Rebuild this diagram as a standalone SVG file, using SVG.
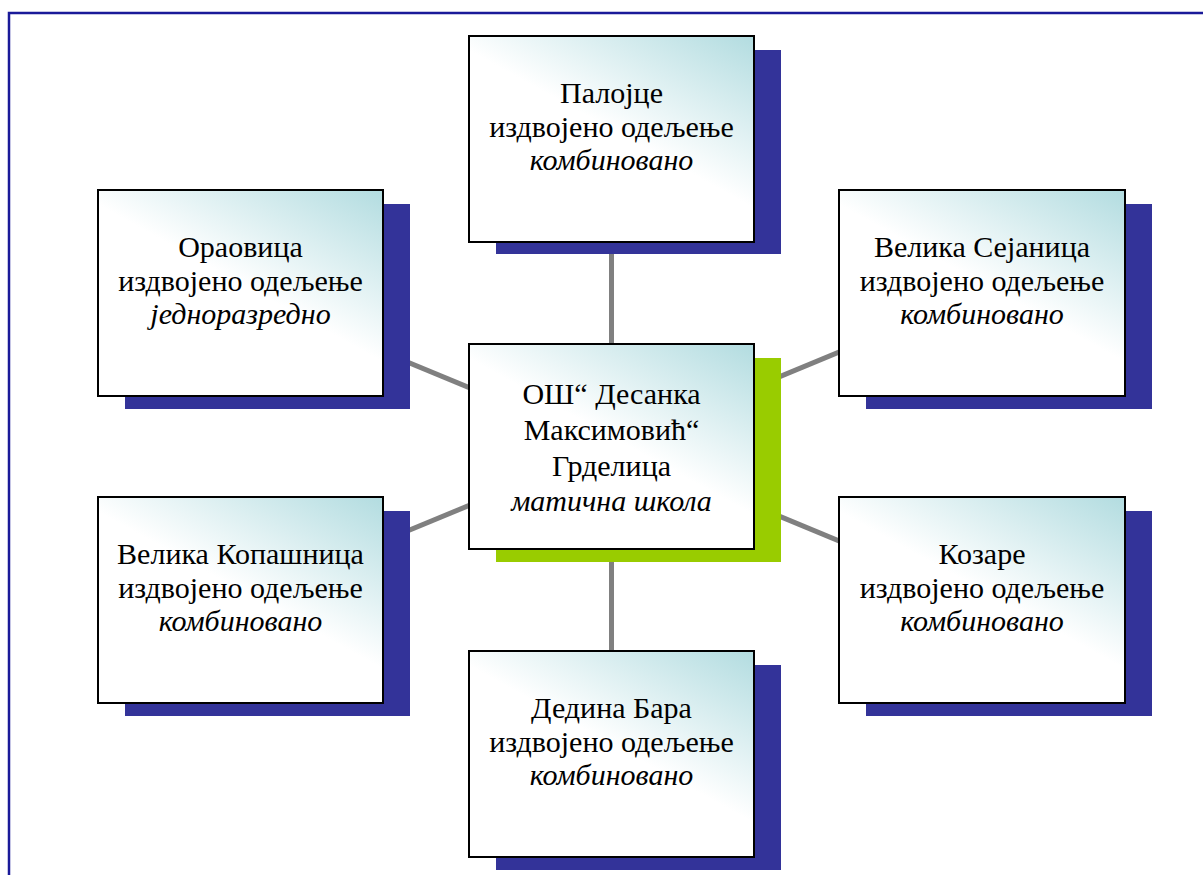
<svg xmlns="http://www.w3.org/2000/svg" width="1203" height="875" viewBox="0 0 1203 875">
<defs>
<linearGradient id="fill" x1="1" y1="0" x2="0.35" y2="0.85">
<stop offset="0" stop-color="#b2dce0"/>
<stop offset="0.62" stop-color="#ffffff"/>
<stop offset="1" stop-color="#ffffff"/>
</linearGradient>
<style>
.box{fill:url(#fill);stroke:#000;stroke-width:2}
.sh{fill:#333399}
.shg{fill:#99cc00}
.conn line{stroke:#808080;stroke-width:5}
text{font-family:"Liberation Serif","Times New Roman",serif;font-size:30px;fill:#000;text-anchor:middle}
.it{font-style:italic}
</style>
</defs>
<rect width="1203" height="875" fill="#fff"/>
<path d="M9 875 V13 H1203" fill="none" stroke="#1a1a99" stroke-width="2.5"/>
<g id="connectors" class="conn">
<line x1="611.5" y1="446.5" x2="611.5" y2="139"/>
<line x1="611.5" y1="446.5" x2="611.5" y2="754"/>
<line x1="611.5" y1="446.5" x2="240.5" y2="293"/>
<line x1="611.5" y1="446.5" x2="981.5" y2="293"/>
<line x1="611.5" y1="446.5" x2="240.5" y2="600"/>
<line x1="611.5" y1="446.5" x2="981.5" y2="600"/>
</g>
<g id="palojce">
<rect class="sh" x="496" y="50" width="285" height="204"/>
<rect class="box" x="469" y="36" width="285" height="206"/>
<text x="611.5" y="103">Палојце</text>
<text x="611.5" y="137">издвојено одељење</text>
<text x="611.5" y="170" class="it">комбиновано</text>
</g>
<g id="oraovica">
<rect class="sh" x="125" y="204" width="285" height="205"/>
<rect class="box" x="98" y="190" width="285" height="206"/>
<text x="240.5" y="257">Ораовица</text>
<text x="240.5" y="291">издвојено одељење</text>
<text x="240.5" y="324" class="it">једноразредно</text>
</g>
<g id="velika-sejanica">
<rect class="sh" x="866" y="204" width="286" height="205"/>
<rect class="box" x="839" y="190" width="286" height="206"/>
<text x="982" y="257">Велика Сејаница</text>
<text x="982" y="291">издвојено одељење</text>
<text x="982" y="324" class="it">комбиновано</text>
</g>
<g id="center">
<rect class="shg" x="496" y="358" width="285" height="204"/>
<rect class="box" x="469" y="344" width="285" height="205"/>
<text x="611.5" y="404">ОШ“ Десанка</text>
<text x="611.5" y="440">Максимовић“</text>
<text x="611.5" y="476">Грделица</text>
<text x="611.5" y="511" class="it">матична школа</text>
</g>
<g id="velika-kopasnica">
<rect class="sh" x="125" y="511" width="285" height="205"/>
<rect class="box" x="98" y="497" width="285" height="206"/>
<text x="240.5" y="564">Велика Копашница</text>
<text x="240.5" y="598">издвојено одељење</text>
<text x="240.5" y="631" class="it">комбиновано</text>
</g>
<g id="kozare">
<rect class="sh" x="866" y="511" width="286" height="205"/>
<rect class="box" x="839" y="497" width="286" height="206"/>
<text x="982" y="564">Козаре</text>
<text x="982" y="598">издвојено одељење</text>
<text x="982" y="631" class="it">комбиновано</text>
</g>
<g id="dedina-bara">
<rect class="sh" x="496" y="665" width="285" height="205"/>
<rect class="box" x="469" y="651" width="285" height="206"/>
<text x="611.5" y="718">Дедина Бара</text>
<text x="611.5" y="752">издвојено одељење</text>
<text x="611.5" y="785" class="it">комбиновано</text>
</g>
</svg>
